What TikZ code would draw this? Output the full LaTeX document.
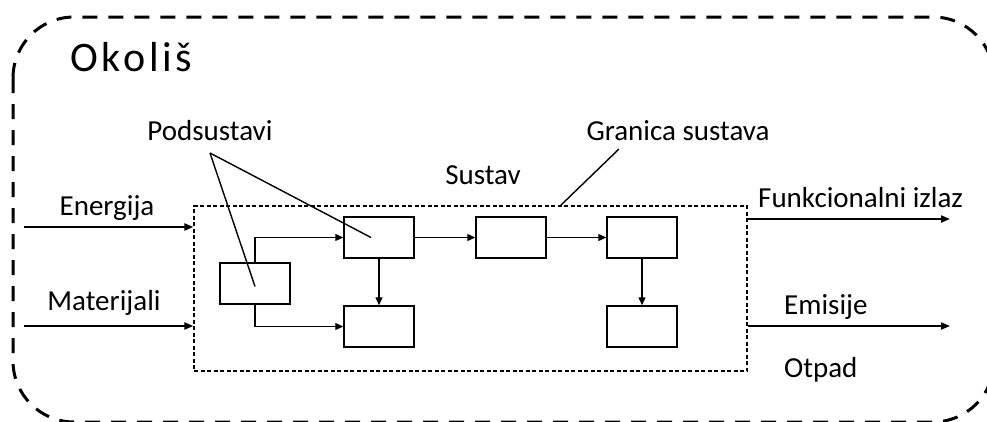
\documentclass[tikz,border=0pt]{standalone}
\usepackage{fontspec}
\setmainfont{Carlito}
\usetikzlibrary{arrows.meta,positioning}

\begin{document}
\begin{tikzpicture}[
  x=1pt,y=-1pt,
  sub/.style={draw,line width=1.5pt,minimum width=70pt,minimum height=41pt,inner sep=0pt},
  lbl/.style={inner sep=0pt,font=\fontsize{29}{34}\selectfont},
  flow/.style={line width=1.3pt,-{Triangle[length=8pt,width=7pt]}},
  io/.style={line width=2pt,-{Triangle[length=9pt,width=7pt]}},
  pointer/.style={line width=1.4pt}
]

\useasboundingbox (0,0) rectangle (987,421);
\clip (0,0) rectangle (987,421);

% okolis
\draw[line width=3pt,dash pattern=on 15pt off 11pt,rounded corners=61pt] (13,17) rectangle (994,422);
\node[lbl,anchor=west,font=\fontsize{42}{48}\selectfont\addfontfeatures{LetterSpace=9}] (okolis) at (70,57) {Okoliš};

% sustav
\node (sys) at (470.5,288.5)[draw,dashed,dash pattern=on 4pt off 2.5pt,line width=1.2pt,minimum width=553pt,minimum height=165pt,inner sep=0pt] {};
\node[lbl] (sustav) at (483,175) {Sustav};

% podsustavi
\node[sub] (a) at (255,283.5) {};
\node[sub] (b) at (379,237.5) {};
\node[sub] (c) at (379,326.5) {};
\node[sub] (d) at (511,237.5) {};
\node[sub] (e) at (642,237.5) {};
\node[sub] (f) at (642,326.5) {};

\draw[flow] (a.north) |- (b.west);
\draw[flow] (a.south) |- (c.west);
\draw[flow] (b) -- (c);
\draw[flow] (b) -- (d);
\draw[flow] (d) -- (e);
\draw[flow] (e) -- (f);

% oznake
\node[lbl] (pod) at (210,131) {Podsustavi};
\coordinate (podtip) at (210,153);
\draw[pointer] (podtip) -- ([yshift=-3pt]a.center);
\draw[pointer] (podtip) -- ([xshift=-8pt]b.center);

\node[lbl] (gran) at (678,131) {Granica sustava};
\coordinate (grantip) at (619,149);
\draw[pointer] (grantip) -- (560,206);

% ulazi
\coordinate (inE) at (24,227);
\coordinate (inM) at (24,326);
\draw[io] (inE) -- (inE -| sys.west);
\draw[io] (inM) -- (inM -| sys.west);
\node[lbl] (energija) at (107,208) {Energija};
\node[lbl] (materijali) at (104,303) {Materijali};

% izlazi
\coordinate (outF) at (950,219);
\coordinate (outE) at (950,326);
\draw[io] (outF -| sys.east) -- (outF);
\draw[io] (outE -| sys.east) -- (outE);
\node[lbl,anchor=west] (funk) at (758,198) {Funkcionalni izlaz};
\node[lbl,anchor=west] (emisije) at (784,307) {Emisije};
\node[lbl,anchor=west] (otpad) at (784,370) {Otpad};

\end{tikzpicture}
\end{document}
